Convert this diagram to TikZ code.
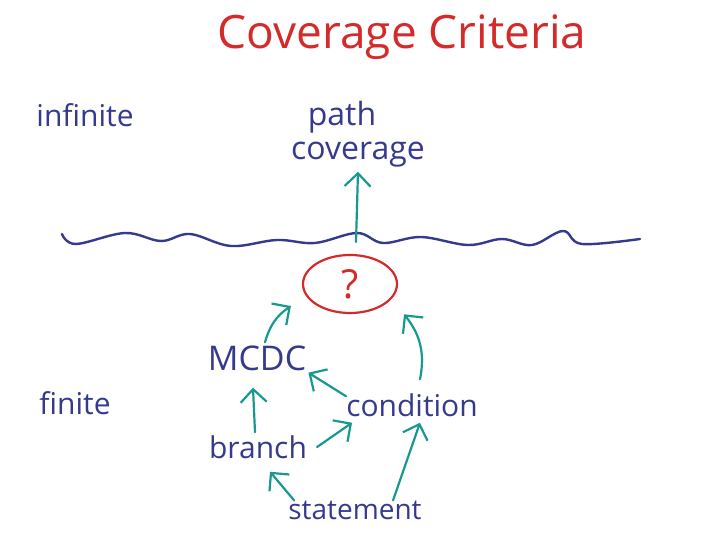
\documentclass[tikz,border=0pt]{standalone}
\usepackage{fontspec}
\setmainfont{Open Sans}
\usetikzlibrary{arrows.meta,shapes.geometric}
\definecolor{penred}{HTML}{D42A2A}
\definecolor{pennavy}{HTML}{363A8C}
\definecolor{penteal}{HTML}{17998F}
\begin{document}
\begin{tikzpicture}[x=1pt, y=-1pt, line cap=round, line join=round,
    word/.style={text=pennavy, inner sep=0pt, font=\fontsize{30}{36}\selectfont},
    link/.style={penteal, line width=2.2pt, -{Straight Barb[length=13pt,width=26pt]}},
  ]
  % Bild 720 x 540, y nach unten
  \useasboundingbox (0,0) rectangle (720,540);

  % Titel
  \node[text=penred, inner sep=0pt, font=\fontsize{46}{52}\selectfont] (title) at (402,37) {Coverage Criteria};

  % oberhalb der Welle
  \node[word] (infinite) at (85,115) {infinite};
  \node[word, font=\fontsize{32}{38}\selectfont] (path) at (342,117) {path};
  \node[word, font=\fontsize{32}{38}\selectfont] (coverage) at (358,155) {coverage};

  % die Welle
  \draw[pennavy, line width=2.4pt] plot[smooth, tension=0.6] coordinates {
    (62,234) (76,244) (125,233) (161,241) (190,234) (231,246) (277,240)
    (315,243) (357,233) (383,243) (421,237) (468,245) (502,239) (532,245)
    (563,231) (582,244) (640,239)};
  \coordinate (wave) at (356,242);

  % unterhalb der Welle
  \node[draw=penred, text=penred, ellipse, line width=2.2pt, minimum width=94pt,
    minimum height=58pt, inner sep=0pt, font=\fontsize{40}{46}\selectfont] (unknown) at (350,284) {?};
  \node[word] (finite) at (75,403) {finite};
  \node[word, font=\fontsize{34}{40}\selectfont] (mcdc) at (257,358) {MCDC};
  \node[word] (condition) at (412,405) {condition};
  \node[word] (branch) at (258,447) {branch};
  \node[word, font=\fontsize{28}{34}\selectfont] (statement) at (355,510) {statement};

  % Pfeile
  \draw[link] (wave) -- ([yshift=-4pt]coverage.south);
  \draw[link] ([xshift=8pt,yshift=3pt]mcdc.north) to[bend left=20] ([shift={(-11,22)}]unknown.west);
  \draw[link] ([xshift=8pt,yshift=14pt]condition.north) to[bend right=25] ([shift={(20,9)}]unknown.south east);
  \draw[link] ([yshift=-3pt]condition.north west) -- ([shift={(2,2)}]mcdc.south east);
  \draw[link] ([shift={(-3,-3)}]branch.north) -- ([shift={(-4,17)}]mcdc.south);
  \draw[link] ([xshift=10pt]branch.east) -- ([shift={(6,6)}]condition.south west);
  \draw[link] ([xshift=6pt]statement.north west) -- ([shift={(12,13)}]branch.south);
  \draw[link] ([xshift=38pt]statement.north) -- ([shift={(8,6)}]condition.south);
\end{tikzpicture}
\end{document}
